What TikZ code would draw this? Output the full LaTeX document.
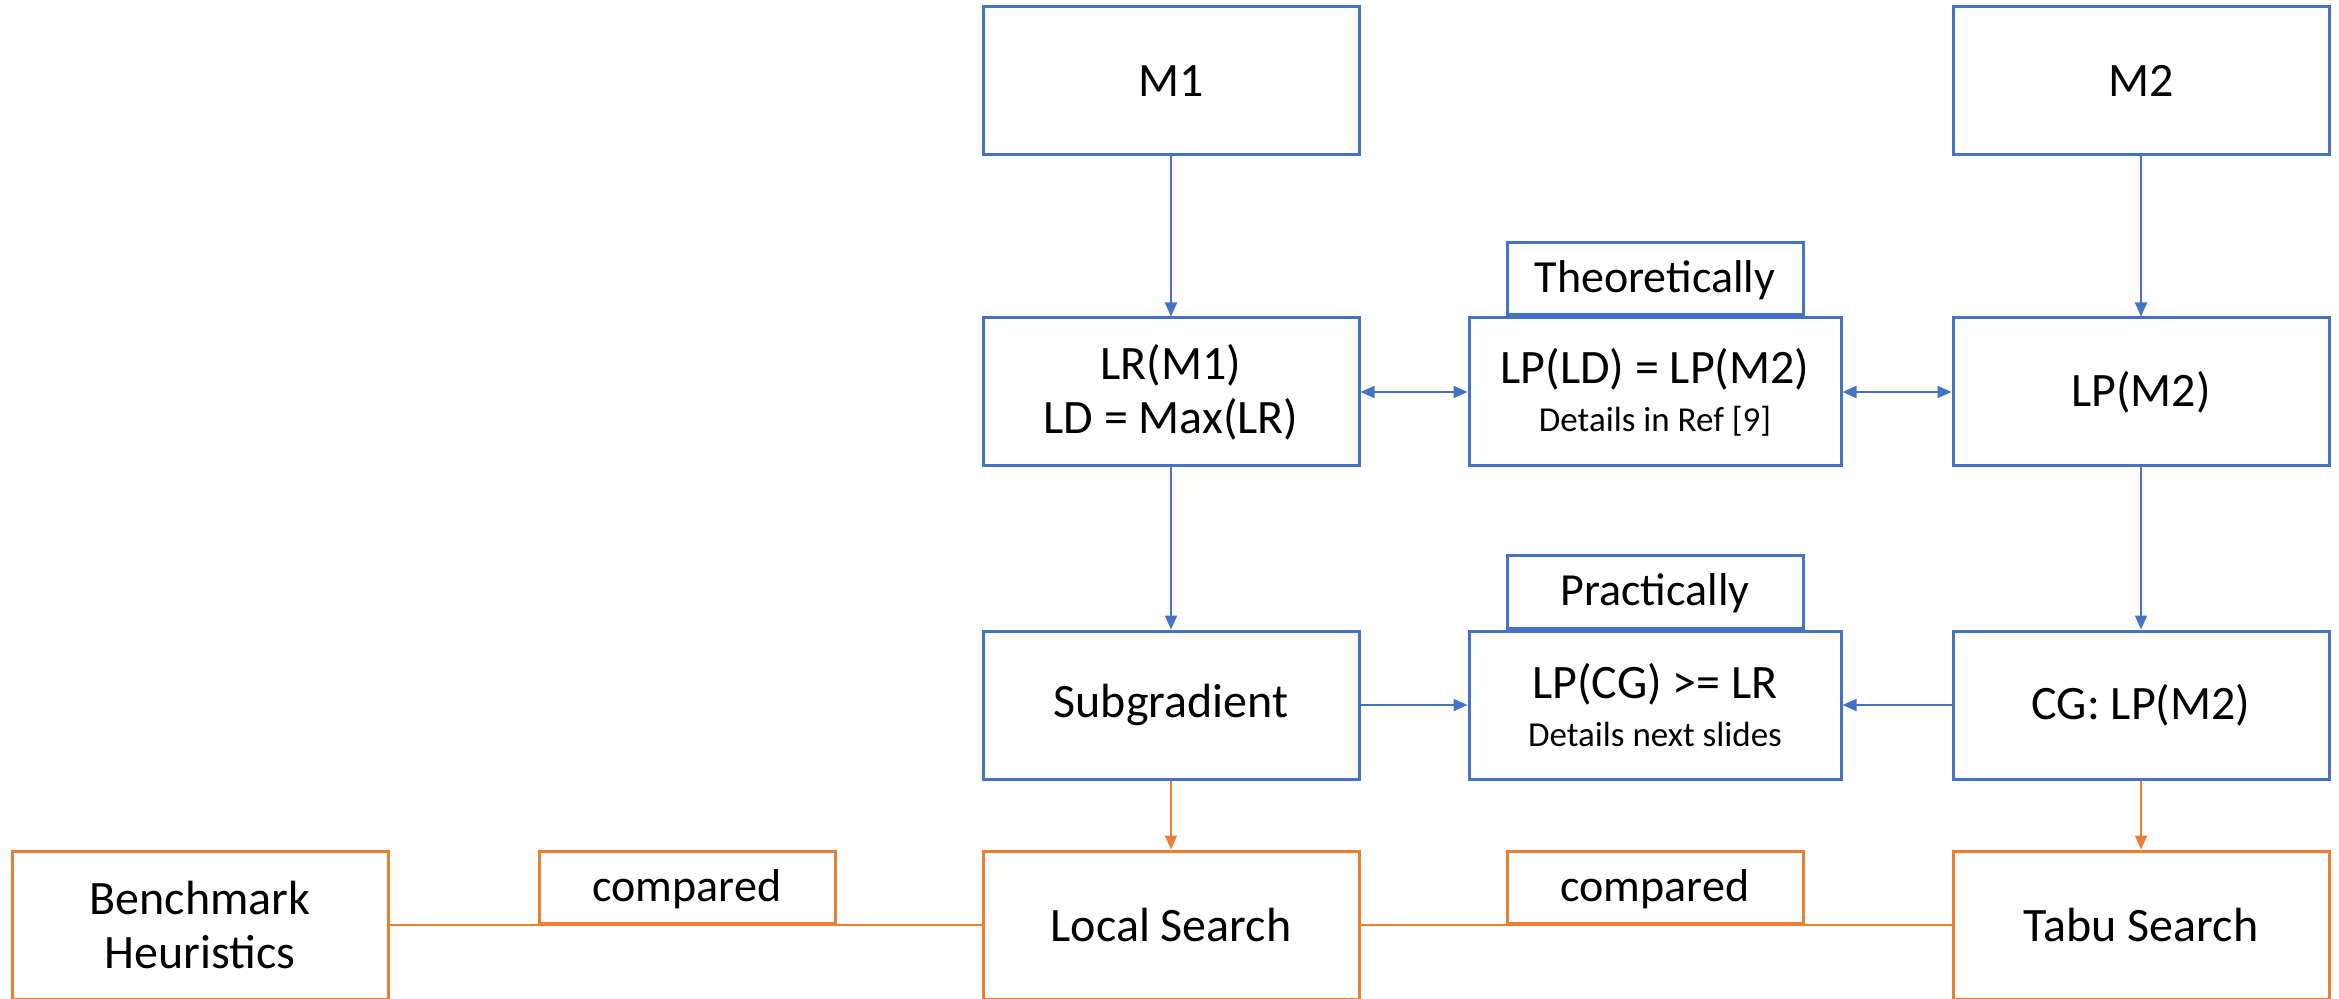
\documentclass[tikz,border=0pt]{standalone}
\usepackage{fontspec}
\setmainfont{Carlito}
\usetikzlibrary{arrows.meta}
\definecolor{ofblue}{HTML}{4472C4}
\definecolor{oforange}{HTML}{ED7D31}
\newcommand\detailfont{\fontsize{17.5}{21}\selectfont}
\begin{document}
\begin{tikzpicture}[x=0.5pt,y=-0.5pt,
  box/.style={draw=ofblue, line width=1.5pt, minimum width=188pt, minimum height=74pt,
    inner sep=0pt, align=center, fill=white, font=\fontsize{24}{28}\selectfont},
  lpbox/.style={box, minimum width=186pt},
  obox/.style={box, draw=oforange},
  tagbox/.style={draw=ofblue, line width=1.5pt, minimum width=148pt, minimum height=36pt,
    inner sep=0pt, fill=white, text depth=2pt, font=\fontsize{23}{27}\selectfont},
  otagbox/.style={tagbox, draw=oforange},
  arr/.style={draw=ofblue, line width=1pt, -{Triangle[length=7pt,width=6pt]}},
  darr/.style={draw=ofblue, line width=1pt, {Triangle[length=7pt,width=6pt]}-{Triangle[length=7pt,width=6pt]}},
  oarr/.style={arr, draw=oforange},
  oline/.style={draw=oforange, line width=0.8pt}
]
\useasboundingbox (0,0) rectangle (2339,999);
\clip (0,0) rectangle (2339,999);

% models
\node[box] (m1) at (1171,81) {M1};
\node[box] (m2) at (2141,81) {M2};

% relaxations
\node[box] (lr) at (1171,392) {LR(M1)\\[-1pt]LD = Max(LR)};
\node[lpbox] (lpld) at (1655,392) {LP(LD) = LP(M2)\\[-4pt]{\detailfont Details in Ref [9]}};
\node[box] (lpm2) at (2141,392) {LP(M2)};
\node[tagbox, anchor=south] (theo) at (lpld.north) {Theoretically};

% solution methods
\node[box] (sub) at (1171,705) {Subgradient};
\node[lpbox] (lpcg) at (1655,705) {LP(CG) >= LR\\[-4pt]{\detailfont Details next slides}};
\node[box] (cg) at (2141,705) {CG: LP(M2)};
\node[tagbox, anchor=south] (prac) at (lpcg.north) {Practically};

% heuristics
\node[obox] (bench) at (200,925) {Benchmark\\[-1pt]Heuristics};
\node[obox] (local) at (1171,925) {Local Search};
\node[obox] (tabu) at (2141,925) {Tabu Search};
\draw[oline] (bench.east) -- (local.west);
\draw[oline] (local.east) -- (tabu.west);
\node[otagbox, anchor=south] (cmp1) at (687,925) {compared};
\node[otagbox, anchor=south] (cmp2) at (1655,925) {compared};

% connectors
\draw[arr] (m1) -- (lr);
\draw[arr] (lr) -- (sub);
\draw[arr] (m2) -- (lpm2);
\draw[arr] (lpm2) -- (cg);
\draw[darr] (lr) -- (lpld);
\draw[darr] (lpld) -- (lpm2);
\draw[arr] (sub) -- (lpcg);
\draw[arr] (cg) -- (lpcg);
\draw[oarr] (sub) -- (local);
\draw[oarr] (cg) -- (tabu);
\end{tikzpicture}
\end{document}
